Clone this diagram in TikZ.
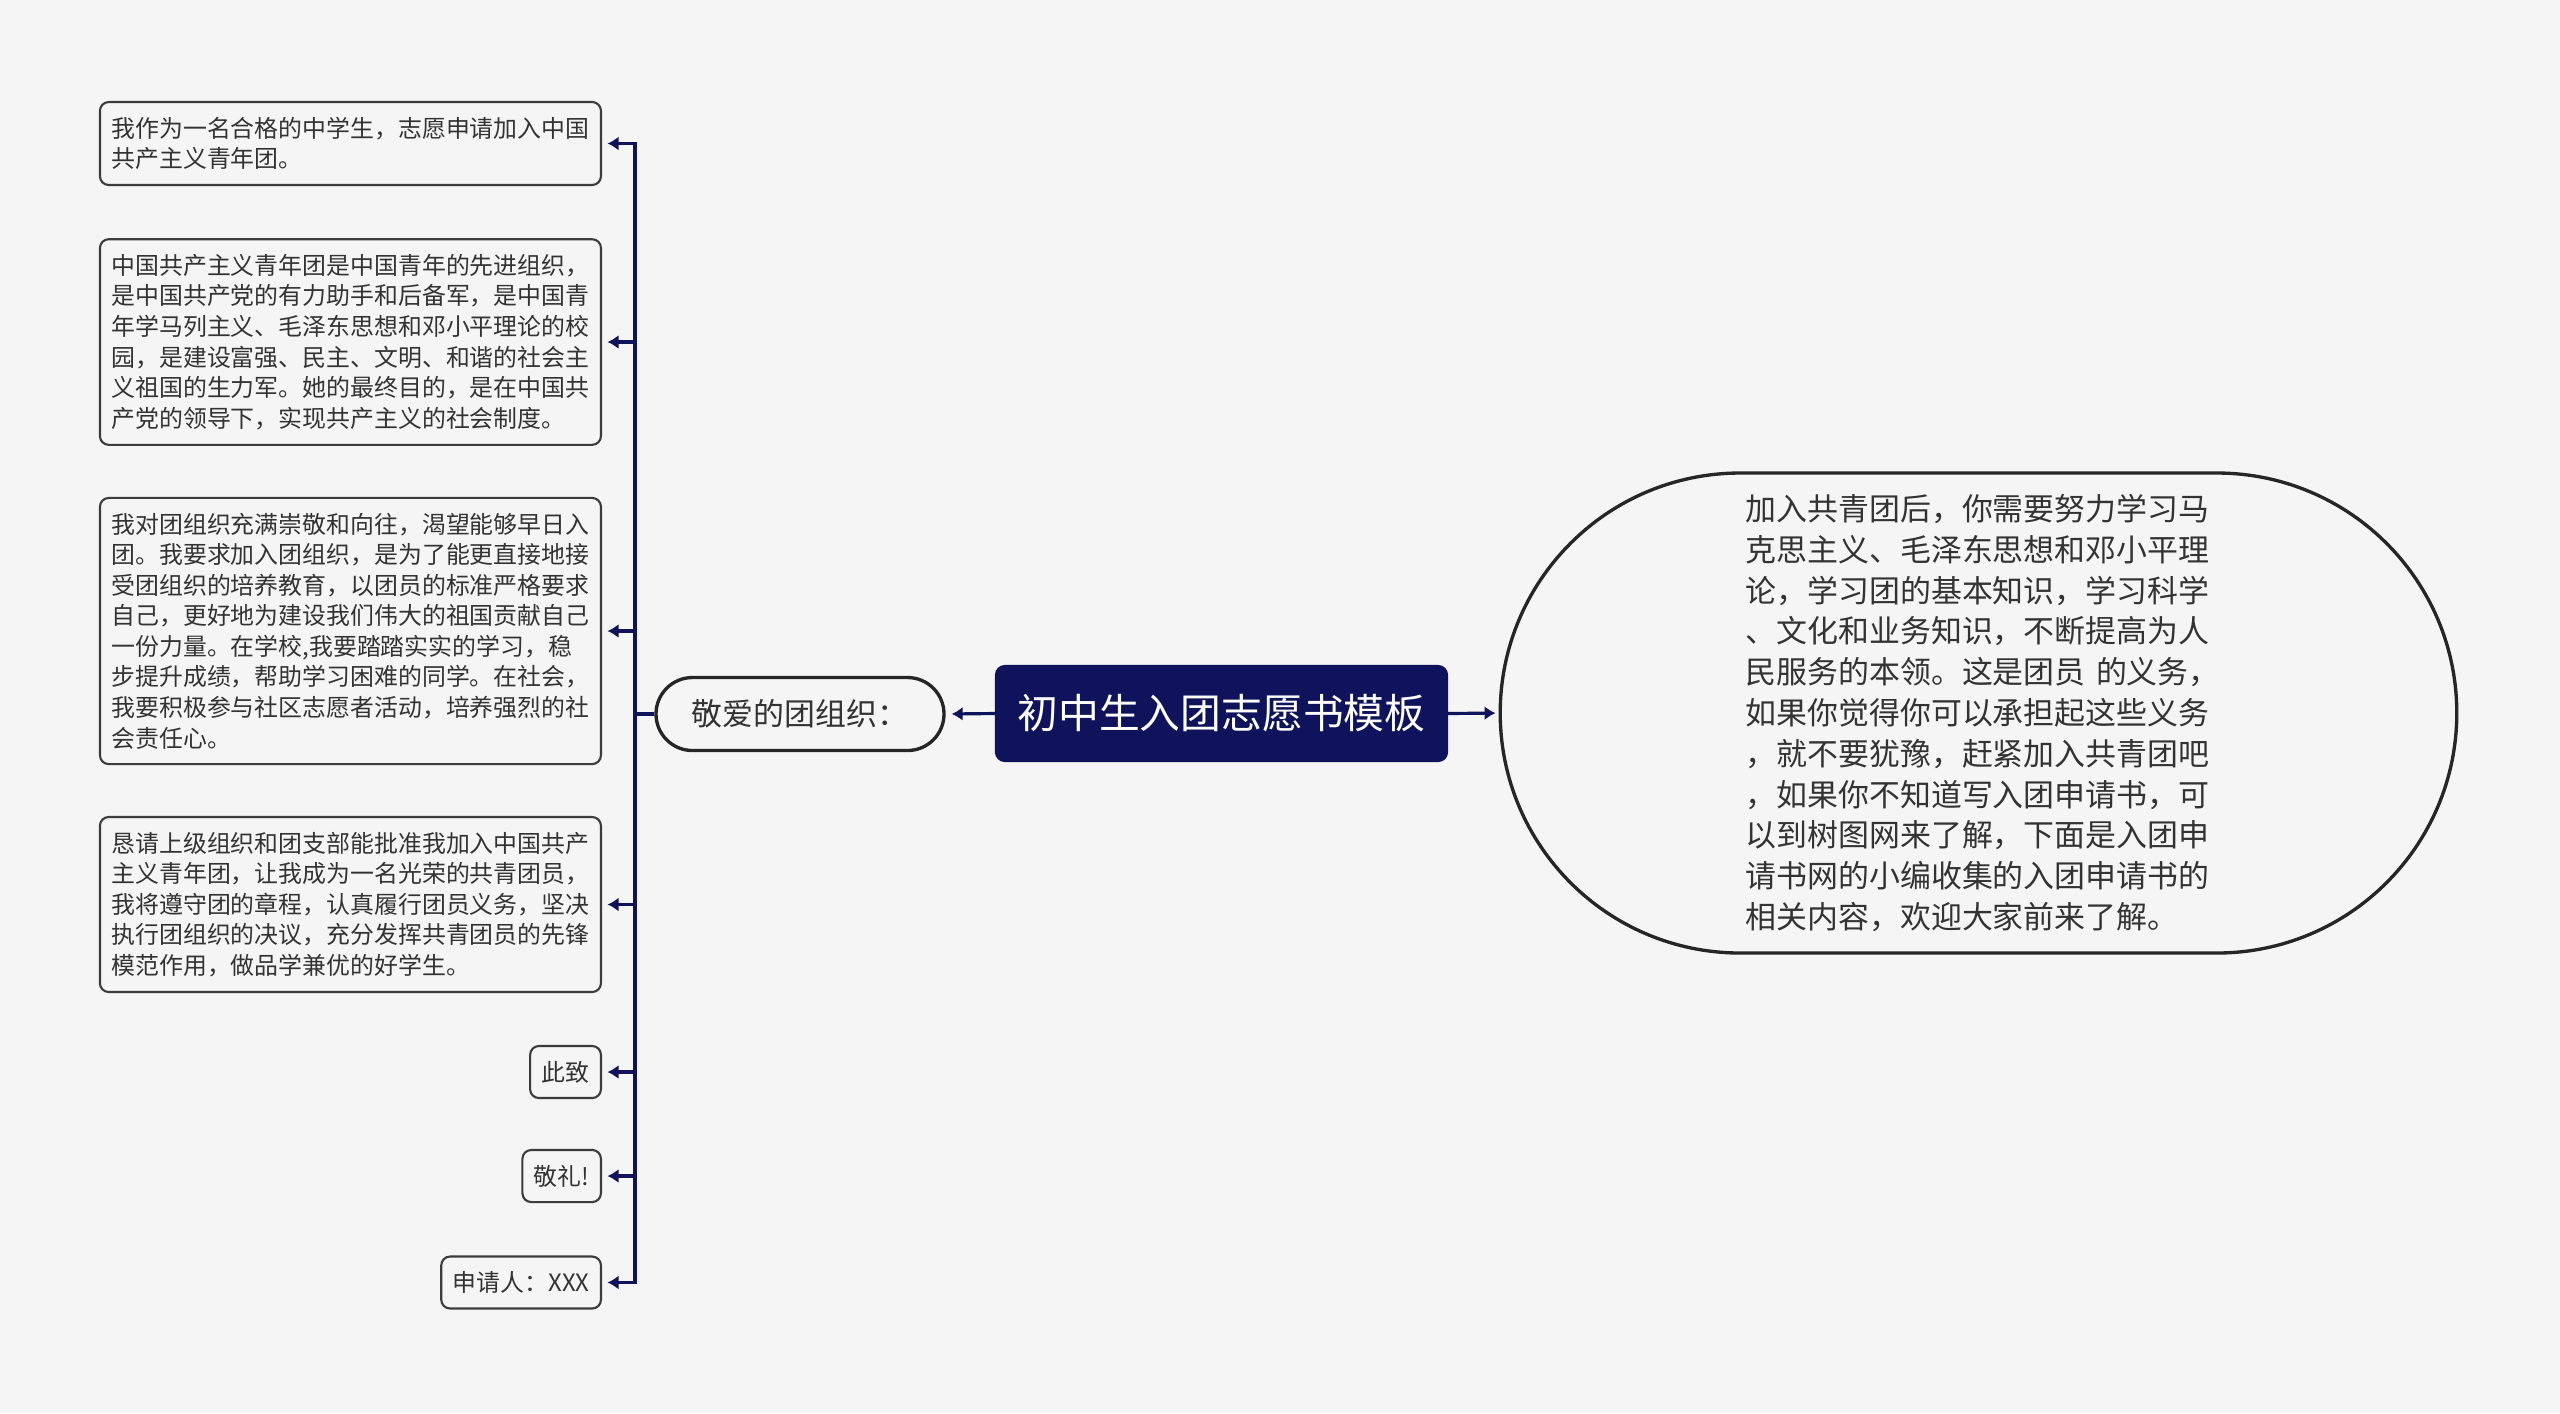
\documentclass[tikz,border=0pt]{standalone}
\usepackage{fontspec}
\setmainfont{Noto Sans CJK SC}
\usetikzlibrary{arrows.meta,positioning,shapes.misc}
\definecolor{LetterNavy}{HTML}{0E135B}
\definecolor{LetterBg}{HTML}{F5F5F5}
\definecolor{LetterInk}{HTML}{333333}
\definecolor{LetterEdge}{HTML}{3C3C3C}
\tikzset{
  rootbox/.style={draw=LetterNavy, fill=LetterNavy, rounded corners=2.5pt,
                  line width=0.6pt, inner sep=0pt,
                  font=\fontsize{11.6}{14}\selectfont\color{white},
                  minimum width=4.51cm, minimum height=0.95cm},
  topicbox/.style={rounded rectangle, draw=black!85, fill=LetterBg,
                   line width=0.95pt, inner sep=0pt,
                   font=\fontsize{8.8}{11.6}\selectfont\color{LetterInk},
                   minimum width=2.88cm, minimum height=0.73cm},
  ovalbox/.style={rounded rectangle, draw=black!85, fill=LetterBg,
                  line width=0.95pt, align=left, text width=4.66cm,
                  font=\fontsize{8.8}{11.6}\selectfont\color{LetterInk},
                  minimum width=9.8cm, minimum height=4.8cm},
  leafbox/.style={draw=LetterEdge, fill=LetterBg, rounded corners=2.5pt,
                  line width=0.6pt, align=left, anchor=east,
                  inner xsep=0.115cm, inner ysep=0.15cm,
                  font=\fontsize{6.8}{8.7}\selectfont\color{LetterInk}},
  leafwide/.style={leafbox, text width=4.78cm},
  arrow/.style={-{Latex[length=1.1mm,width=1.4mm]}, line width=0.9pt, LetterNavy},
}

\begin{document}
\begin{tikzpicture}
  % 1 cm = 100 px of the 2560 x 1413 canvas
  \fill[LetterBg] (0,0) rectangle (25.6,-14.13);
  \useasboundingbox (0,0) rectangle (25.6,-14.13);

  \node[rootbox] (root) at (12.215,-7.135) {初中生入团志愿书模板};
  \node[topicbox] (topic) at (8.00,-7.14) {敬爱的团组织：};
  \node[ovalbox] (oval) at (19.785,-7.13)
    {加入共青团后，你需要努力学习马\\克思主义、毛泽东思想和邓小平理\\论，学习团的基本知识，学习科学\\、文化和业务知识，不断提高为人\\民服务的本领。这是团员~的义务，\\如果你觉得你可以承担起这些义务\\，就不要犹豫，赶紧加入共青团吧\\，如果你不知道写入团申请书，可\\以到树图网来了解，下面是入团申\\请书网的小编收集的入团申请书的\\相关内容，欢迎大家前来了解。};

  \node[leafwide] (p1) at (6.02,-1.435)
    {我作为一名合格的中学生，志愿申请加入中国\\共产主义青年团。};
  \node[leafwide] (p2) at (6.02,-3.42)
    {中国共产主义青年团是中国青年的先进组织，\\是中国共产党的有力助手和后备军，是中国青\\年学马列主义、毛泽东思想和邓小平理论的校\\园，是建设富强、民主、文明、和谐的社会主\\义祖国的生力军。她的最终目的，是在中国共\\产党的领导下，实现共产主义的社会制度。};
  \node[leafwide] (p3) at (6.02,-6.31)
    {我对团组织充满崇敬和向往，渴望能够早日入\\团。我要求加入团组织，是为了能更直接地接\\受团组织的培养教育，以团员的标准严格要求\\自己，更好地为建设我们伟大的祖国贡献自己\\一份力量。在学校,我要踏踏实实的学习，稳\\步提升成绩，帮助学习困难的同学。在社会，\\我要积极参与社区志愿者活动，培养强烈的社\\会责任心。};
  \node[leafwide] (p4) at (6.02,-9.045)
    {恳请上级组织和团支部能批准我加入中国共产\\主义青年团，让我成为一名光荣的共青团员，\\我将遵守团的章程，认真履行团员义务，坚决\\执行团组织的决议，充分发挥共青团员的先锋\\模范作用，做品学兼优的好学生。};
  \node[leafbox] (p5) at (6.02,-10.72) {此致};
  \node[leafbox] (p6) at (6.02,-11.76) {敬礼!};
  \node[leafbox] (p7) at (6.02,-12.825) {申请人：XXX};

  \draw[arrow, shorten >=0.06cm] (root.west) -- (topic.east);
  \draw[arrow, shorten >=0.03cm] (root.east) -- (oval.west);

  \coordinate (bus) at (6.35,-7.14);
  \draw[arrow, shorten >=0.055cm] (topic.west) -- (bus) |- (p1.east);
  \draw[arrow, shorten >=0.055cm] (topic.west) -- (bus) |- (p2.east);
  \draw[arrow, shorten >=0.055cm] (topic.west) -- (bus) |- (p3.east);
  \draw[arrow, shorten >=0.055cm] (topic.west) -- (bus) |- (p4.east);
  \draw[arrow, shorten >=0.055cm] (topic.west) -- (bus) |- (p5.east);
  \draw[arrow, shorten >=0.055cm] (topic.west) -- (bus) |- (p6.east);
  \draw[arrow, shorten >=0.055cm] (topic.west) -- (bus) |- (p7.east);
\end{tikzpicture}
\end{document}
